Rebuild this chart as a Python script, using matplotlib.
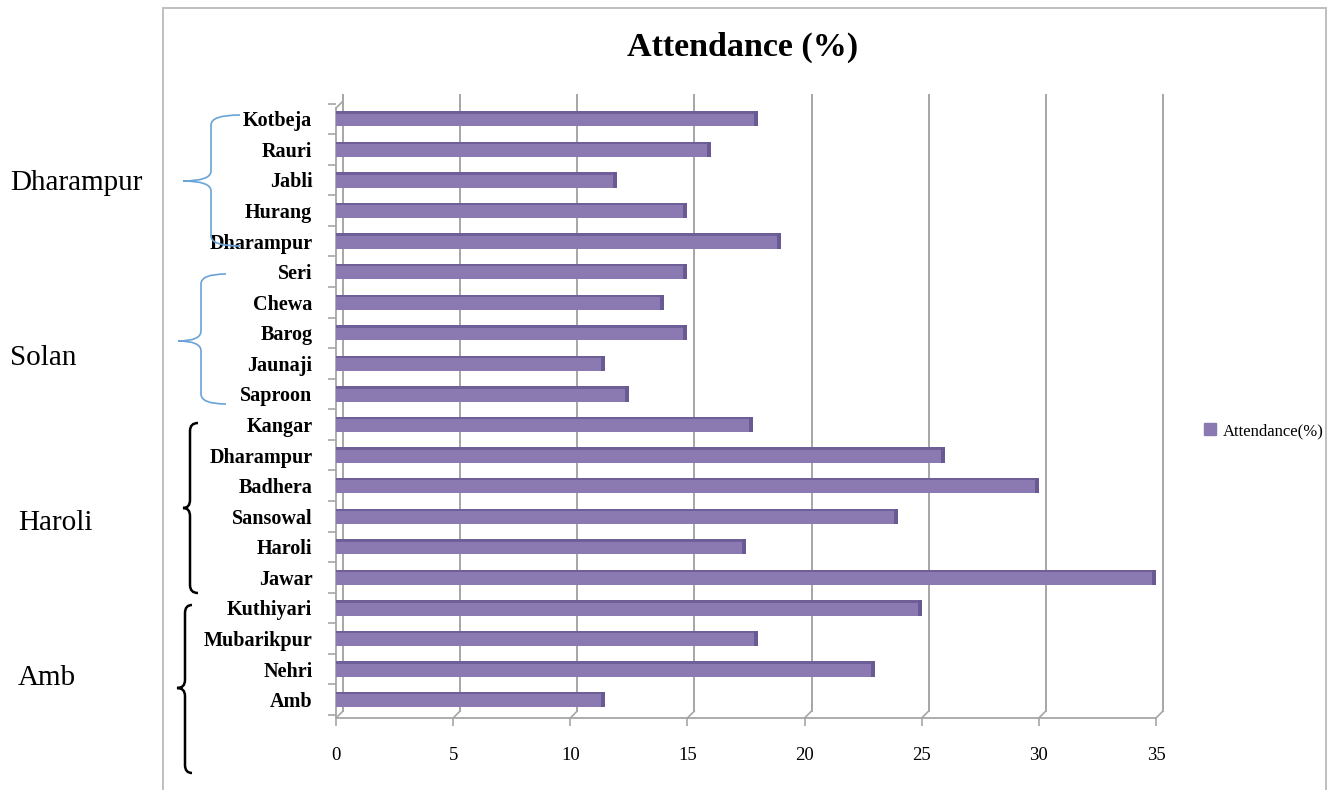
import matplotlib
matplotlib.use('Agg')
import matplotlib.pyplot as plt
from matplotlib.path import Path
from matplotlib.patches import PathPatch, Rectangle
from matplotlib.transforms import ScaledTranslation

# data (top to bottom)
villages = ['Kotbeja', 'Rauri', 'Jabli', 'Hurang', 'Dharampur',
            'Seri', 'Chewa', 'Barog', 'Jaunaji', 'Saproon',
            'Kangar', 'Dharampur', 'Badhera', 'Sansowal', 'Haroli', 'Jawar',
            'Kuthiyari', 'Mubarikpur', 'Nehri', 'Amb']
attendance = [18, 16, 12, 15, 19,
              15, 14, 15, 11.5, 12.5,
              17.8, 26, 30, 24, 17.5, 35,
              25, 18, 23, 11.5]
blocks = ['Dharampur', 'Solan', 'Haroli', 'Amb']
xticks = [0, 5, 10, 15, 20, 25, 30, 35]

W, H = 1335, 790
SERIF = 'Liberation Serif'
bar_col = '#8b79b2'
dark_col = '#6a5a93'
grid_col = '#a6a6a6'

fig = plt.figure(figsize=(W / 100, H / 100), dpi=100)


def fx(x):
    return x / W


def fy(y):
    return 1 - y / H


ax = fig.add_axes([fx(336), fy(718), fx(1156) - fx(336), fy(102) - fy(718)])
pos = list(range(len(villages)))
bh = 0.5
ylo, yhi = 19.6, -0.55

# bars with a darker top edge and end face (fake 3-D look)
ax.barh(pos, attendance, height=bh, color=bar_col, zorder=3)
ax.barh([p - bh / 2 + 0.04 for p in pos], attendance, height=0.08, color='#6f5f99', zorder=4)
ax.barh(pos, [0.17] * len(pos), left=[a - 0.17 for a in attendance], height=bh,
        color=dark_col, zorder=5)

ax.set_xlim(0, 35)
ax.set_ylim(ylo, yhi)

# back wall gridlines, shifted up/right, plus the slanted floor connectors
back = ax.transData + ScaledTranslation(0.07, 0.07, fig.dpi_scale_trans)
for v in xticks:
    ax.plot([v, v], [ylo, yhi], transform=back, color=grid_col, lw=1.4,
            zorder=1, clip_on=False)
    ax.annotate('', xy=(v, ylo), xytext=(5.04, 5.04), textcoords='offset points',
                arrowprops=dict(arrowstyle='-', color=grid_col, lw=1.2,
                                shrinkA=0, shrinkB=0),
                annotation_clip=False)
ax.annotate('', xy=(0, yhi + 0.2), xytext=(5.04, 5.04), textcoords='offset points',
            arrowprops=dict(arrowstyle='-', color=grid_col, lw=1.2, shrinkA=0, shrinkB=0),
            annotation_clip=False)

for s in ['top', 'right']:
    ax.spines[s].set_visible(False)
for s in ['left', 'bottom']:
    ax.spines[s].set_color(grid_col)
    ax.spines[s].set_linewidth(1.3)
ax.spines['left'].set_bounds(ylo, yhi + 0.2)

ax.set_yticks(pos)
ax.set_yticklabels(villages, fontfamily=SERIF, fontweight='bold', fontsize=14.5)
ax.set_yticks([p - 0.5 for p in pos] + [19.5], minor=True)
ax.tick_params(axis='y', which='major', length=0, pad=17)
ax.tick_params(axis='y', which='minor', length=6, color=grid_col, width=1.2)

ax.set_xticks(xticks)
ax.set_xticklabels([str(t) for t in xticks], fontfamily=SERIF, fontsize=13.5)
ax.tick_params(axis='x', length=6, color=grid_col, width=1.2, pad=15)

fig.text(fx(743), fy(47), 'Attendance (%)', ha='center', va='center',
         fontsize=24.5, fontweight='bold', family=SERIF)

ax.legend(handles=[Rectangle((0, 0), 1, 1, color=bar_col)], labels=['Attendance(%)'],
          loc='center left', bbox_to_anchor=(fx(1204), fy(431)),
          bbox_transform=fig.transFigure, frameon=False, borderaxespad=0, borderpad=0,
          handlelength=0.7, handleheight=0.7, handletextpad=0.45,
          prop={'family': SERIF, 'size': 12})

# outer chart frame
fig.add_artist(Rectangle((fx(163), -0.05), fx(1326) - fx(163), fy(8) + 0.05,
                         transform=fig.transFigure, fill=False,
                         edgecolor='#bfbfbf', lw=1.4, clip_on=False))

# block names and braces on the left
block_xy = [(10, 183), (10, 358), (18, 523), (18, 678)]
for name, (x, y) in zip(blocks, block_xy):
    fig.text(fx(x), fy(y), name, ha='left', va='center', fontsize=21, family=SERIF)


def brace(x_end, x_spine, x_tip, y_top, y_mid, y_bot, color, lw, r=9):
    pts = [(x_end, y_top), (x_spine, y_top), (x_spine, y_top + r),
           (x_spine, y_mid - r),
           (x_spine, y_mid), (x_tip, y_mid),
           (x_spine, y_mid), (x_spine, y_mid + r),
           (x_spine, y_bot - r),
           (x_spine, y_bot), (x_end, y_bot)]
    codes = [Path.MOVETO, Path.CURVE3, Path.CURVE3, Path.LINETO,
             Path.CURVE3, Path.CURVE3, Path.CURVE3, Path.CURVE3,
             Path.LINETO, Path.CURVE3, Path.CURVE3]
    verts = [(fx(px), fy(py)) for px, py in pts]
    fig.add_artist(PathPatch(Path(verts, codes), transform=fig.transFigure,
                             fill=False, edgecolor=color, lw=lw, clip_on=False))


brace(240, 211, 183, 115, 181, 246, '#6aa3d8', 1.2, r=10)
brace(226, 201, 178, 274, 341, 404, '#6aa3d8', 1.2, r=10)
brace(198, 190, 183, 423, 508, 593, 'black', 1.8, r=8)
brace(192, 185, 177, 605, 688, 773, 'black', 1.8, r=8)

fig.savefig('out.png', dpi=100)
